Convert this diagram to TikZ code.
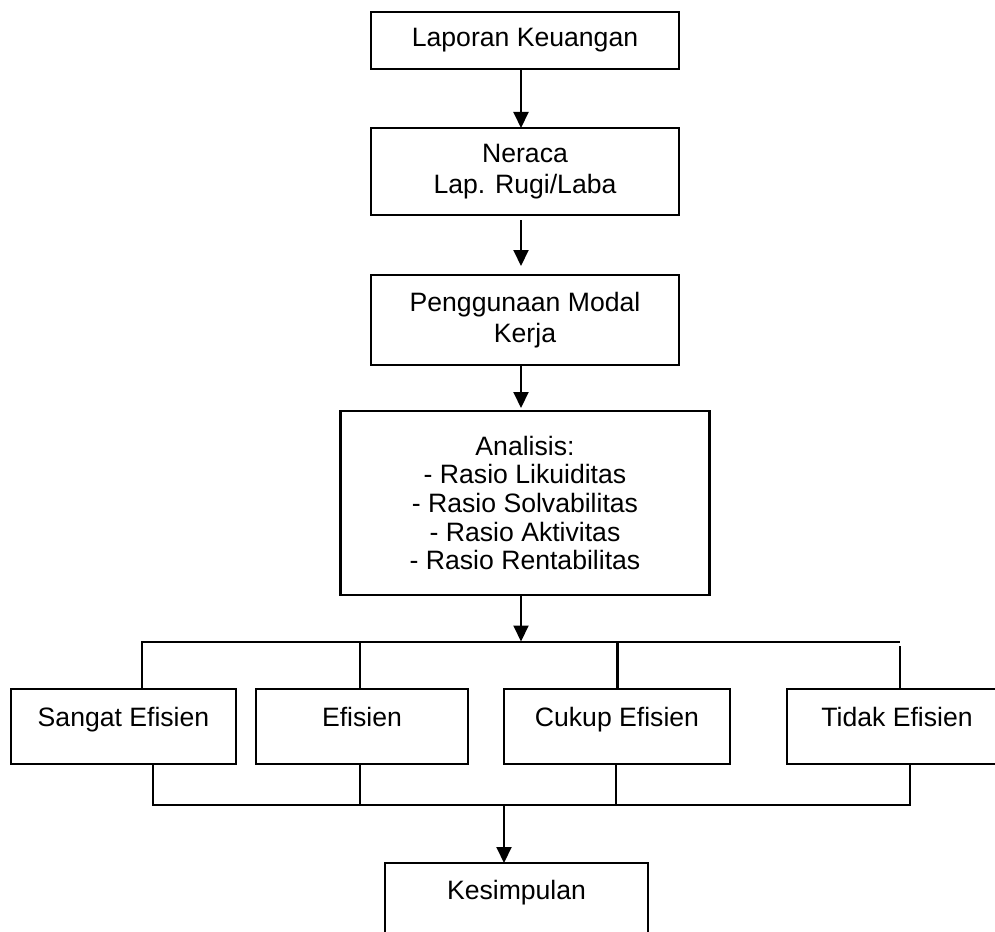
\documentclass[tikz,border=0pt]{standalone}
\usepackage{fontspec}
\setmainfont{Liberation Sans}
\usetikzlibrary{positioning}
\usetikzlibrary{arrows.meta}

\begin{document}
\begin{tikzpicture}[x=0.5pt, y=-0.5pt, line width=1pt,
  font=\fontsize{13.3}{15.75}\selectfont,
  box/.style={draw, shape=rectangle, line width=1.2pt, inner sep=0pt, outer sep=0pt, align=center, minimum width=154pt},
  res/.style={draw, shape=rectangle, line width=1.2pt, inner sep=0pt, outer sep=0pt, text height=18.65pt, text depth=18.85pt},
  arr/.style={-{Triangle[width=7.5pt, length=8pt]}}]
\useasboundingbox (0,0) rectangle (995,931);
\fill[white] (0,0) rectangle (995,931);
% main chain
\node[box, minimum height=28.5pt] (lk) at (525,40.5) {Laporan Keuangan};
\node[box, minimum height=43.5pt, below=29.5pt of lk] (ner) {Neraca\\Lap. Rugi/Laba};
\node[box, minimum height=45pt, below=30pt of ner] (pmk) {Penggunaan Modal\\Kerja};
\node[box, minimum width=184.5pt, minimum height=92pt, below=23pt of pmk, font=\fontsize{13.3}{14.3}\selectfont] (ana) {Analisis:\\- Rasio Likuiditas\\- Rasio Solvabilitas\\- Rasio Aktivitas\\- Rasio Rentabilitas};
% results row
\node[res, minimum width=112.5pt, anchor=north west] (se) at (11,689) {Sangat Efisien};
\node[res, minimum width=106pt, right=10pt of se] (ef) {Efisien};
\node[res, minimum width=113pt, right=18pt of ef] (ce) {Cukup Efisien};
\node[res, minimum width=110pt, right=28.5pt of ce] (te) {Tidak Efisien};
\node[res, minimum width=131.5pt, text height=18.15pt, text depth=31.85pt, anchor=north] (kes) at (516.5,863) {Kesimpulan};
% bus points
\coordinate (spine) at (521,0);
\coordinate (busT) at (521,641.5);
\coordinate (busTL) at (142,641.5);
\coordinate (busTR) at (900,641.5);
\coordinate (busB) at (504,804.5);
\coordinate (busBL) at (153,804.5);
\coordinate (busBR) at (910,804.5);
% arrows down the chain
\draw[arr] (lk.south -| spine) -- (ner.north -| spine);
\draw[arr, shorten <=2.5pt, shorten >=4.5pt] (ner.south -| spine) -- (pmk.north -| spine);
\draw[arr, shorten >=1.5pt] (pmk.south -| spine) -- (ana.north -| spine);
\draw[arr] (ana.south -| spine) -- (busT);
% top bus
\draw (se.north -| busTL) -- (busTL) -- (busTR);
\draw ([xshift=-1pt]ef.north) -- ([xshift=-1pt]ef.north |- busT);
\draw[line width=1.5pt] (ce.north) -- (ce.north |- busT);
\draw ([yshift=-2.25pt]busTR) -- (te.north -| busTR);
% bottom bus
\draw (se.south -| busBL) -- (busBL) -- (busBR) -- (te.south -| busBR);
\draw ([xshift=-1pt]ef.south) -- ([xshift=-1pt]ef.south |- busB);
\draw ([xshift=-0.5pt]ce.south) -- ([xshift=-0.5pt]ce.south |- busB);
\draw[arr] (busB) -- (kes.north -| busB);
\end{tikzpicture}
\end{document}
